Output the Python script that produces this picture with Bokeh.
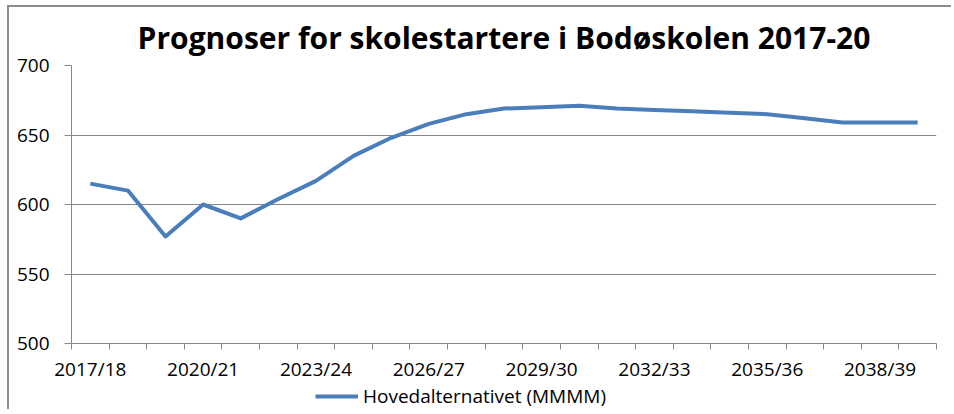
from bokeh.plotting import figure
from bokeh.layouts import column
from bokeh.models import FixedTicker, Legend, LegendItem, ColumnDataSource, Range1d
from bokeh.embed import file_html
from bokeh.resources import INLINE

years = ["2017/18", "2018/19", "2019/20", "2020/21", "2021/22", "2022/23", "2023/24",
         "2024/25", "2025/26", "2026/27", "2027/28", "2028/29", "2029/30", "2030/31",
         "2031/32", "2032/33", "2033/34", "2034/35", "2035/36", "2036/37", "2037/38",
         "2038/39", "2039/40"]
hovedalternativet = [615, 610, 577, 600, 590, 604, 617, 635, 648, 658, 665, 669, 670,
                     671, 669, 668, 667, 666, 665, 662, 659, 659, 659]
series_name = "Hovedalternativet (MMMM)"
y_ticks = [500, 550, 600, 650, 700]
label_every = 3

idx = list(range(len(years)))
src = ColumnDataSource(data=dict(x=idx, y=hovedalternativet, year=years))

FONT = "'Open Sans', sans-serif"
GRAY = "#878787"
LINE = "#4A7EBB"
BORDER = "2px solid #8c8c8c"

p = figure(width=944, height=379, output_backend="svg", toolbar_location=None,
           x_range=Range1d(-0.5, len(years) - 0.5), y_range=Range1d(y_ticks[0], y_ticks[-1]),
           min_border_left=62, min_border_right=17, min_border_top=56, min_border_bottom=43,
           title="Prognoser for skolestartere i Bodøskolen 2017-20")
p.margin = (5, 0, 0, 7)
p.styles = {"border-left": BORDER, "border-top": BORDER}

p.title.text_font = FONT
p.title.text_font_size = "30px"
p.title.text_font_style = "bold"
p.title.text_color = "black"
p.title.align = "center"
p.title.standoff = 15

r = p.line("x", "y", source=src, line_color=LINE, line_width=4, line_join="round")

major_x = idx[::label_every]
p.xaxis.ticker = FixedTicker(ticks=major_x, minor_ticks=[i - 0.5 for i in range(len(years) + 1)])
p.xaxis.major_label_overrides = {i: years[i] for i in major_x}
p.xaxis.major_tick_out = 0
p.xaxis.major_tick_in = 0
p.xaxis.minor_tick_out = 6
p.xaxis.minor_tick_in = 0
p.xaxis.minor_tick_line_color = GRAY
p.xaxis.axis_line_color = GRAY
p.xaxis.major_label_standoff = 6

p.yaxis.ticker = FixedTicker(ticks=y_ticks)
p.yaxis.minor_tick_line_color = None
p.yaxis.major_tick_out = 7
p.yaxis.major_tick_in = 0
p.yaxis.major_tick_line_color = GRAY
p.yaxis.axis_line_color = GRAY
p.yaxis.major_label_standoff = 15

for ax in (p.xaxis, p.yaxis):
    ax.major_label_text_font = FONT
    ax.major_label_text_font_size = "19px"
    ax.major_label_text_color = "black"

p.xgrid.grid_line_color = None
p.ygrid.ticker = FixedTicker(ticks=y_ticks)
p.ygrid.grid_line_color = GRAY
p.ygrid.grid_line_width = 1
p.outline_line_color = None

# legend strip below the chart (its line lies outside the strip's visible range)
pl = figure(width=944, height=25, output_backend="svg", toolbar_location=None,
            x_range=Range1d(0, 1), y_range=Range1d(0, 1),
            min_border_left=0, min_border_right=0, min_border_top=0, min_border_bottom=0)
pl.margin = (0, 0, 0, 7)
pl.styles = {"border-left": BORDER}
pl.axis.visible = False
pl.grid.visible = False
pl.outline_line_color = None
lr = pl.line(x=idx, y=hovedalternativet, line_color=LINE, line_width=4)
legend = Legend(items=[LegendItem(label=series_name, renderers=[lr])],
                orientation="horizontal", location=(244, 0),
                glyph_width=43, glyph_height=18, label_standoff=5, label_height=18,
                label_text_font=FONT, label_text_font_size="19px", label_text_color="black",
                border_line_color=None, background_fill_alpha=0,
                padding=0, margin=0, spacing=0)
pl.add_layout(legend, "center")

layout = column(p, pl, spacing=0)
open("out.html", "w").write(file_html(layout, INLINE))
